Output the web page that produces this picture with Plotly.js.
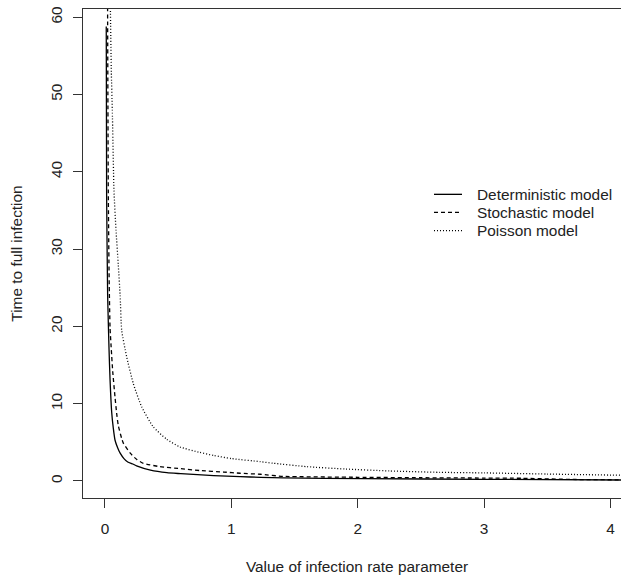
<!DOCTYPE html>
<html>
<head>
<meta charset="utf-8">
<script src="https://cdn.plot.ly/plotly-3.0.1.min.js"></script>
<style>
html, body { margin: 0; padding: 0; overflow: hidden; background: #fff; }
#chart { width: 640px; height: 578px; }
</style>
</head>
<body>
<div id="chart"></div>
<script>
// ---- data ----
var seriesNames = ["Deterministic model", "Stochastic model", "Poisson model"];

var detX = [0.01, 0.013, 0.021, 0.032, 0.04, 0.053, 0.066, 0.079, 0.1, 0.12, 0.15, 0.18, 0.22, 0.25, 0.36, 0.49, 0.6, 0.86, 1.07, 1.23, 1.41, 2.04, 3.0, 4.1];
var detY = [58.8, 37, 24, 17, 13.1, 8.9, 6.8, 5.3, 4.3, 3.6, 2.9, 2.45, 2.2, 1.95, 1.4, 1.07, 0.95, 0.69, 0.56, 0.48, 0.4, 0.3, 0.22, 0.13];

var stoX = [0.02, 0.026, 0.033, 0.04, 0.05, 0.061, 0.079, 0.092, 0.105, 0.132, 0.145, 0.2, 0.25, 0.303, 0.435, 0.593, 0.75, 0.94, 1.07, 1.23, 1.41, 2.0, 2.5, 3.0, 3.3, 3.7, 4.1];
var stoY = [64, 37.6, 26, 19.8, 17, 14.2, 10.9, 8.8, 7.2, 5.5, 4.9, 3.6, 2.8, 2.29, 1.85, 1.6, 1.35, 1.16, 1.0, 0.87, 0.6, 0.48, 0.42, 0.38, 0.35, 0.2, 0.15];

var poiX = [0.042, 0.05, 0.058, 0.071, 0.087, 0.105, 0.12, 0.132, 0.171, 0.224, 0.29, 0.382, 0.488, 0.593, 0.75, 0.86, 1.0, 1.23, 1.33, 1.6, 1.9, 2.25, 2.65, 3.0, 3.5, 4.1];
var poiY = [62, 53, 48, 37.6, 32.5, 28, 24, 19.5, 16.1, 12.6, 9.6, 7.0, 5.4, 4.4, 3.7, 3.3, 2.9, 2.5, 2.3, 1.85, 1.55, 1.3, 1.12, 1.05, 0.9, 0.74];

var xTicks = [0, 1, 2, 3, 4];
var yTicks = [0, 10, 20, 30, 40, 50, 60];

var xTitle = "Value of infection rate parameter";
var yTitle = "Time to full infection";

// ---- styles ----
var FONT = "Liberation Sans, Arial, sans-serif";
var FS = 15.4;
var TXT = "#222";
var dashes = ["solid", "4px,3px", "1px,2px"];
var lineW = 1.3;

function lineStyle(i) {
  return {color: "#000", width: lineW, dash: dashes[i], shape: "spline", smoothing: 0.5};
}

var traces = [
  {x: detX, y: detY, name: seriesNames[0], mode: "lines", line: lineStyle(0), showlegend: false},
  {x: stoX, y: stoY, name: seriesNames[1], mode: "lines", line: lineStyle(1), showlegend: false},
  {x: poiX, y: poiY, name: seriesNames[2], mode: "lines", line: lineStyle(2), showlegend: false}
];

// legend drawn manually (R style, no box)
var legX0 = 0.6405, legX1 = 0.6916, legTX = 0.7150;
var legY = [0.621, 0.5843, 0.5466];
var shapes = [], annotations = [];
for (var i = 0; i < seriesNames.length; i++) {
  shapes.push({type: "line", xref: "paper", yref: "paper", x0: legX0, x1: legX1, y0: legY[i], y1: legY[i],
               line: {color: "#000", width: lineW, dash: dashes[i]}});
  annotations.push({xref: "paper", yref: "paper", x: legTX, y: legY[i], xanchor: "left", yanchor: "middle",
                    text: seriesNames[i], showarrow: false, font: {family: FONT, size: FS, color: TXT}});
}

var layout = {
  width: 640, height: 578,
  margin: {l: 83, r: 9, t: 9, b: 80, pad: 0},
  paper_bgcolor: "#fff", plot_bgcolor: "#fff",
  font: {family: FONT, size: FS, color: TXT},
  showlegend: false,
  xaxis: {
    range: [-0.174, 4.162], tickvals: xTicks, ticktext: xTicks.map(String),
    showgrid: false, zeroline: false, showline: true, mirror: true, linecolor: "#333", linewidth: 1,
    ticks: "outside", ticklen: 9, tickcolor: "#333", tickwidth: 1, ticklabelstandoff: 8,
    title: {text: xTitle, font: {family: FONT, size: FS, color: TXT}, standoff: 24}
  },
  yaxis: {
    range: [-2.2, 61.06], tickvals: yTicks, ticktext: yTicks.map(String), tickangle: -90,
    showgrid: false, zeroline: false, showline: true, mirror: true, linecolor: "#333", linewidth: 1,
    ticks: "outside", ticklen: 9, tickcolor: "#333", tickwidth: 1, ticklabelstandoff: 5,
    title: {text: yTitle, font: {family: FONT, size: FS, color: TXT}, standoff: 21}
  },
  shapes: shapes,
  annotations: annotations
};

Plotly.newPlot("chart", traces, layout, {displayModeBar: false, staticPlot: true});
</script>
</body>
</html>
